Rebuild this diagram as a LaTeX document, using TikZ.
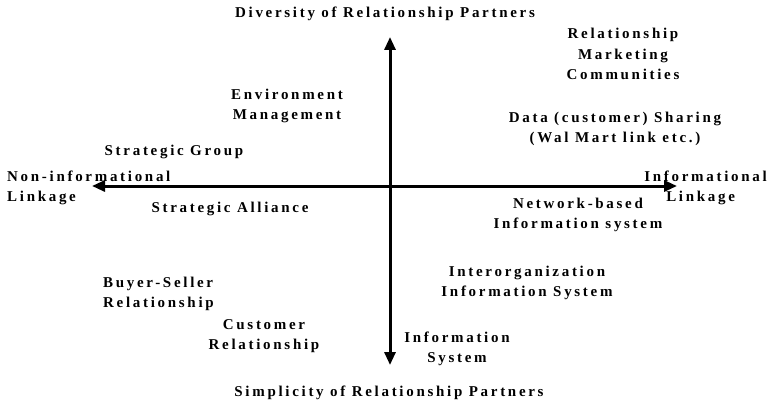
\documentclass[tikz,border=0pt]{standalone}
\usepackage{fontspec}
\setmainfont{Liberation Serif}[LetterSpace=18]
\usetikzlibrary{arrows.meta}
\tikzset{
  lbl/.style={font=\fontsize{15pt}{20.5pt}\selectfont\bfseries, inner sep=0pt, align=center},
  lbll/.style={lbl, align=left},
  axis/.style={line width=3pt, -{Triangle[length=13pt,width=11pt]}}
}
\begin{document}
\begin{tikzpicture}[x=1pt,y=-1pt]
\useasboundingbox (0,0) rectangle (767,406);
\coordinate (O) at (390,186);
\coordinate (L) at (92,186);
\coordinate (R) at (677,186);
\coordinate (T) at (390,37);
\coordinate (B) at (390,365);
\draw[axis] (O) -- (L);
\draw[axis] (O) -- (R);
\draw[axis] (O) -- (T);
\draw[axis] (O) -- (B);
\node[lbl] (div) at (385,14) {Diversity of Relationship Partners};
\node[lbl] (sim) at (389,393) {Simplicity of Relationship Partners};
\node[lbl] (rmc) at (623,54) {Relationship\\Marketing\\Communities};
\node[lbl] (env) at (287,106) {Environment\\Management};
\node[lbl] (data) at (615,129) {Data (customer) Sharing\\(Wal Mart link etc.)};
\node[lbl] (sg) at (174,152) {Strategic Group};
\node[lbll, anchor=west] (nil) at (7,188) {Non-informational\\Linkage};
\node[lbl] (sa) at (230,209) {Strategic Alliance};
\node[lbl, anchor=east] (il) at (767,188) {Informational\\\hspace*{0pt}Linkage\hspace*{10pt}};
\node[lbl] (nbis) at (578,215) {Network-based\\Information system};
\node[lbl] (iis) at (527,283) {Interorganization\\Information System};
\node[lbll, anchor=west] (bsr) at (103,294) {Buyer-Seller\\Relationship};
\node[lbl] (cr) at (264,336) {Customer\\Relationship};
\node[lbl] (is) at (457,349) {Information\\System};
\end{tikzpicture}
\end{document}
